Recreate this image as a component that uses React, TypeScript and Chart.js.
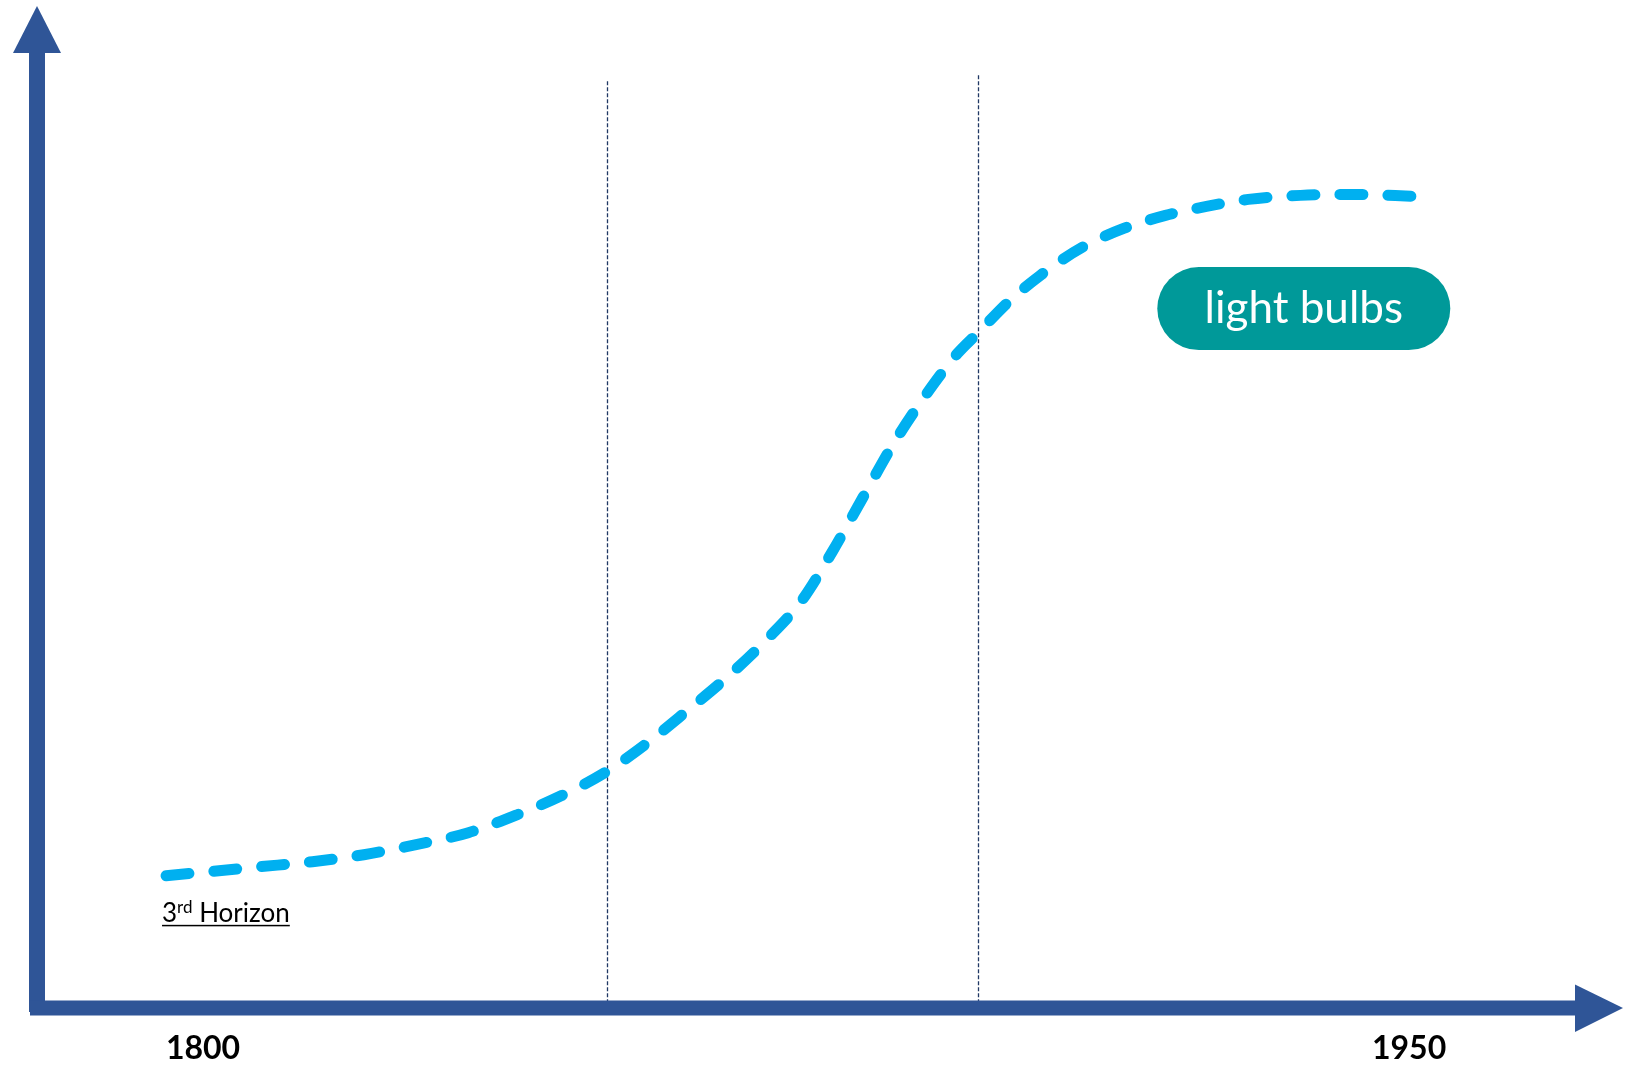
import React, { useEffect, useRef } from "react";
import { Chart, registerables } from "chart.js";

Chart.register(...registerables);

// Curve: x = year, y = relative level (0-100)
const curveYears = [
  1795.4, 1800.6, 1807.1, 1813.6, 1820.0, 1826.5, 1833.0, 1839.4, 1844.6, 1850.2,
  1855.0, 1860.1, 1865.3, 1870.5, 1874.4, 1878.3, 1882.1, 1886.0, 1889.9, 1893.8,
  1896.4, 1900.2, 1904.1, 1909.3, 1914.5, 1919.7, 1924.8, 1930.0, 1936.5, 1943.0, 1951.0,
];
const curveValues = [
  13.2, 13.6, 14.1, 14.6, 15.3, 16.3, 17.5, 19.4, 21.2, 23.6,
  26.3, 29.6, 33.1, 37.1, 40.6, 45.6, 51.0, 56.5, 61.2, 65.3,
  67.4, 70.5, 73.1, 75.9, 77.8, 79.1, 80.0, 80.7, 81.1, 81.2, 81.0,
];
const xTickValues = [1800, 1950];
const dividerYears = [1850.2, 1896.4];
const dividerTops = [92.5, 93.1];
const seriesLabel = "light bulbs";
const horizonLabel = { num: "3", sup: "rd", rest: " Horizon" };
const labelPos = { x: 1936.9, y: 69.8 };
const horizonPos = { x: 1794.9, y: 8.6 };

const X_MIN = 1779.35;
const X_MAX = 1976.6;

const AXIS_COLOR = "#2F5597";

const decorPlugin = {
  id: "decor",
  beforeDatasetsDraw(chart: any) {
    const { ctx, scales, chartArea } = chart;
    const xs = scales.x;
    const ys = scales.y;
    ctx.save();
    ctx.strokeStyle = "#203864";
    ctx.lineWidth = 1.3;
    ctx.setLineDash([4, 2]);
    dividerYears.forEach((yr, i) => {
      const px = Math.round(xs.getPixelForValue(yr)) + 0.5;
      ctx.beginPath();
      ctx.moveTo(px, ys.getPixelForValue(dividerTops[i]));
      ctx.lineTo(px, chartArea.bottom - 7);
      ctx.stroke();
    });
    ctx.restore();
  },
  afterDraw(chart: any) {
    const { ctx, scales, chartArea } = chart;
    const xs = scales.x;
    const ys = scales.y;
    const L = chartArea.left;
    const B = chartArea.bottom;
    const T = chartArea.top;
    const R = chartArea.right;
    ctx.save();
    ctx.fillStyle = AXIS_COLOR;
    // y axis bar
    ctx.fillRect(L - 8, T + 47, 16, B + 4 - (T + 47));
    // y arrow head
    ctx.beginPath();
    ctx.moveTo(L - 24, T + 47);
    ctx.lineTo(L + 24, T + 47);
    ctx.lineTo(L, T);
    ctx.closePath();
    ctx.fill();
    // x axis bar
    ctx.fillRect(L - 7, B - 7.5, R - 48 - (L - 7), 15);
    // x arrow head
    ctx.beginPath();
    ctx.moveTo(R - 48, B - 23.5);
    ctx.lineTo(R - 48, B + 24);
    ctx.lineTo(R, B);
    ctx.closePath();
    ctx.fill();

    // pill label
    const cx = xs.getPixelForValue(labelPos.x);
    const cy = ys.getPixelForValue(labelPos.y);
    const w = 293;
    const h = 83;
    const r = h / 2;
    ctx.fillStyle = "#009999";
    ctx.beginPath();
    ctx.moveTo(cx - w / 2 + r, cy - r);
    ctx.lineTo(cx + w / 2 - r, cy - r);
    ctx.arc(cx + w / 2 - r, cy, r, -Math.PI / 2, Math.PI / 2);
    ctx.lineTo(cx - w / 2 + r, cy + r);
    ctx.arc(cx - w / 2 + r, cy, r, Math.PI / 2, (3 * Math.PI) / 2);
    ctx.closePath();
    ctx.fill();
    ctx.fillStyle = "#ffffff";
    ctx.font = "44px Lato";
    ctx.textAlign = "center";
    ctx.textBaseline = "middle";
    ctx.fillText(seriesLabel, cx, cy);

    // 3rd Horizon
    const hx = xs.getPixelForValue(horizonPos.x);
    const hy = ys.getPixelForValue(horizonPos.y);
    ctx.fillStyle = "#000000";
    ctx.textAlign = "left";
    ctx.textBaseline = "alphabetic";
    ctx.font = "26px Lato";
    ctx.fillText(horizonLabel.num, hx, hy);
    let off = ctx.measureText(horizonLabel.num).width;
    ctx.font = "17px Lato";
    ctx.fillText(horizonLabel.sup, hx + off, hy - 9);
    off += ctx.measureText(horizonLabel.sup).width;
    ctx.font = "26px Lato";
    ctx.fillText(horizonLabel.rest, hx + off, hy);
    off += ctx.measureText(horizonLabel.rest).width;
    ctx.fillRect(hx, hy + 3, off, 1.5);
    ctx.restore();
  },
};

export default function App() {
  const ref = useRef<HTMLCanvasElement>(null);
  useEffect(() => {
    if (!ref.current) return;
    const chart = new Chart(ref.current, {
      type: "line",
      data: {
        datasets: [
          {
            label: seriesLabel,
            data: curveYears.map((x, i) => ({ x, y: curveValues[i] })),
            borderColor: "#00B0F0",
            borderWidth: 11,
            borderDash: [23, 25],
            borderCapStyle: "round",
            pointRadius: 0,
            tension: 0.4,
            cubicInterpolationMode: "monotone",
            fill: false,
          },
        ],
      },
      options: {
        animation: false,
        responsive: false,
        layout: { padding: { left: 37, top: 6, right: 8, bottom: 0 } },
        plugins: { legend: { display: false }, tooltip: { enabled: false } },
        scales: {
          x: {
            type: "linear",
            min: X_MIN,
            max: X_MAX,
            grid: { display: false, drawTicks: false },
            border: { display: false },
            afterBuildTicks: (scale: any) => {
              scale.ticks = xTickValues.map((v) => ({ value: v }));
            },
            afterFit: (scale: any) => {
              scale.height = 58;
            },
            ticks: {
              padding: 21,
              color: "#000000",
              font: { family: "Lato", size: 32, weight: "bold" },
              autoSkip: false,
              maxRotation: 0,
              callback: (v: any) => String(v),
            },
          },
          y: { display: false, min: 0, max: 100 },
        },
      },
      plugins: [decorPlugin],
    } as any);
    return () => chart.destroy();
  }, []);
  return (
    <div style={{ position: "fixed", left: 0, top: 0, width: 1631, height: 1066, background: "#fff" }}>
      <canvas ref={ref} width={1631} height={1066} style={{ width: 1631, height: 1066 }} />
    </div>
  );
}
